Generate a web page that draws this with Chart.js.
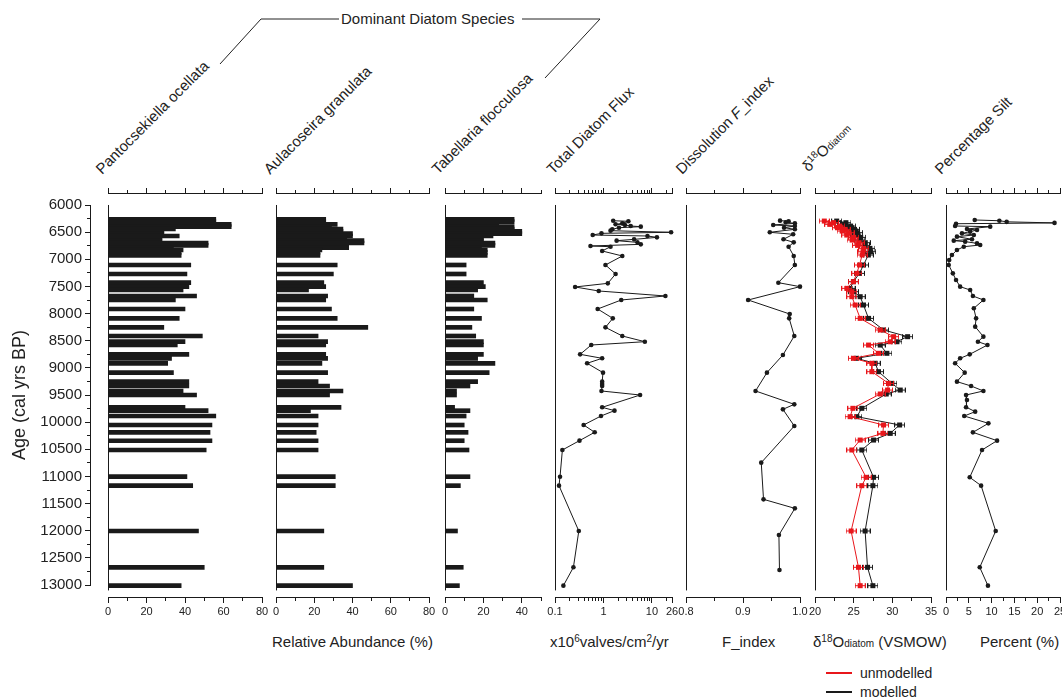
<!DOCTYPE html>
<html>
<head>
<meta charset="utf-8">
<script src="https://cdn.jsdelivr.net/npm/chart.js@4.4.0/dist/chart.umd.min.js"></script>
<style>
  body { margin: 0; background: #fff; font-family: Arial, "Liberation Sans", sans-serif; color: #222; }
  #wrap { position: relative; width: 1062px; height: 700px; overflow: hidden; }
  #wrap canvas { position: absolute; top: 0; }
  .rot { position: absolute; white-space: nowrap; font-size: 15px; line-height: 16px;
         transform-origin: 0 100%; transform: rotate(-45deg); }
  .unit { position: absolute; top: 633px; font-size: 15px; line-height: 17px; white-space: nowrap; }
  .small { font-size: 10px; }
  sup { font-size: 10px; vertical-align: 5px; line-height: 0; }
  .key { position: absolute; left: 826px; width: 26px; height: 2px; }
  .keytxt { position: absolute; left: 860px; font-size: 14px; line-height: 16px; }
</style>
</head>
<body>
<div id="wrap">
  <svg width="1062" height="700" style="position:absolute;left:0;top:0">
    <polyline points="220,64 261,19 339,19" fill="none" stroke="#222" stroke-width="1"/>
    <polyline points="522,19 600,19 545,78" fill="none" stroke="#222" stroke-width="1"/>
  </svg>
  <div style="position:absolute;left:341px;top:10px;font-size:15px;line-height:18px">Dominant Diatom Species</div>

  <div class="rot" style="left:104px;top:161px">Pantocsekiella ocellata</div>
  <div class="rot" style="left:272px;top:161px">Aulacoseira granulata</div>
  <div class="rot" style="left:440px;top:161px">Tabellaria flocculosa</div>
  <div class="rot" style="left:555px;top:161px">Total Diatom Flux</div>
  <div class="rot" style="left:684px;top:161px">Dissolution <i>F</i>_index</div>
  <div class="rot" style="left:812px;top:158px">δ<sup>18</sup>O<span class="small">diatom</span></div>
  <div class="rot" style="left:943px;top:161px">Percentage Silt</div>

  <div class="unit" style="left:272px">Relative Abundance (%)</div>
  <div class="unit" style="left:550px">x10<sup>6</sup>valves/cm<sup>2</sup>/yr</div>
  <div class="unit" style="left:722px">F_index</div>
  <div class="unit" style="left:813px">δ<sup>18</sup>O<span class="small">diatom</span> (VSMOW)</div>
  <div class="unit" style="left:980px">Percent (%)</div>

  <div class="key" style="top:672px;background:#e8161b"></div>
  <div class="keytxt" style="top:665px">unmodelled</div>
  <div class="key" style="top:691px;background:#1a1a1a"></div>
  <div class="keytxt" style="top:684px">modelled</div>
</div>

<script>
// ---- data (ages in cal yrs BP) ----
const speciesAges = [6264, 6307, 6356, 6399, 6442, 6485, 6528, 6571, 6614, 6657, 6700, 6743, 6786, 6829, 6872, 6927,
  7105, 7271, 7431, 7504, 7566, 7676, 7750, 7916, 8088, 8254, 8413, 8518, 8579, 8751, 8825, 8917, 9089, 9255, 9334,
  9426, 9500, 9727, 9789, 9887, 10053, 10188, 10342, 10513, 11005, 11170, 12005, 12674, 13012];
const pantocsekiella = [56, 56, 64, 64, 35, 29, 29, 37, 28, 28, 52, 52, 34, 39, 38, 38,
  43, 41, 43, 42, 39, 46, 35, 40, 37, 29, 49, 40, 36, 42, 33, 31, 34, 42, 42, 39, 46, 40, 52, 56, 54, 53, 54, 51,
  41, 44, 47, 50, 38];
const aulacoseira = [26, 26, 32, 29, 35, 35, 40, 40, 37, 46, 46, 38, 38, 24, 23, 23,
  32, 30, 25, 26, 17, 27, 26, 29, 32, 48, 22, 27, 26, 26, 27, 24, 27, 22, 28, 35, 28, 34, 18, 22, 22, 21, 22, 22,
  31, 31, 25, 25, 40];
const tabellaria = [36, 36, 28, 36, 36, 40, 40, 25, 20, 20, 26, 26, 19, 22, 22, 22,
  11, 11, 20, 21, 17, 15, 22, 15, 19, 14, 16, 20, 20, 20, 17, 26, 23, 17, 13, 6, 6, 5, 13, 11, 10, 12, 10, 12.5,
  13, 8, 6.5, 9.5, 7.5];

const fluxAges = [6290, 6300, 6338, 6356, 6368, 6387, 6399, 6418, 6448, 6473, 6503, 6522, 6553, 6571, 6596, 6633,
  6657, 6688, 6725, 6755, 6768, 6847, 6939, 7105, 7271, 7443, 7510, 7584, 7676, 7750, 7916, 8088, 8254, 8413, 8518,
  8579, 8751, 8824, 8916, 9088, 9254, 9297, 9334, 9426, 9500, 9727, 9788, 9887, 10052, 10187, 10341, 10513, 11005,
  11170, 12005, 12674, 13012];
const fluxValues = [1.59, 3.27, 2.45, 1.78, 2.78, 3.65, 5.9, 2.09, 1.52, 1.40, 24.9, 0.91, 0.60, 8.1, 12.7, 4.29,
  1.87, 5.03, 5.9, 0.54, 1.40, 0.94, 2.45, 1.10, 1.78, 1.23, 0.26, 0.80, 19.0, 2.33, 0.76, 1.56, 1.10, 2.45, 7.15,
  0.56, 0.33, 0.94, 0.46, 0.98, 0.94, 0.94, 0.94, 0.91, 5.71, 0.94, 1.69, 0.89, 0.39, 0.66, 0.32, 0.142, 0.127,
  0.121, 0.31, 0.24, 0.149];

const fIndexAges = [6288, 6300, 6319, 6338, 6368, 6387, 6418, 6448, 6503, 6540, 6632, 6688, 6768, 6939, 7105, 7431,
  7504, 7750, 8008, 8088, 8413, 8763, 9088, 9426, 9672, 9764, 10071, 10746, 11422, 11588, 12079, 12724];
const fIndexValues = [0.965, 0.980, 0.975, 0.991, 0.953, 0.991, 0.972, 0.991, 0.947, 0.988, 0.971, 0.989, 0.980,
  0.989, 0.991, 0.962, 1.0, 0.909, 0.982, 0.981, 0.990, 0.970, 0.942, 0.922, 0.990, 0.970, 0.990, 0.932, 0.936,
  0.991, 0.963, 0.964];

const isoAges = [6295, 6325, 6356, 6387, 6418, 6448, 6479, 6510, 6553, 6596, 6645, 6694, 6743, 6798, 6860, 6921,
  7105, 7259, 7412, 7535, 7596, 7688, 7842, 8088, 8302, 8425, 8518, 8579, 8732, 8824, 8916, 9070, 9285, 9408, 9481,
  9745, 9899, 10052, 10206, 10329, 10513, 11016, 11170, 12005, 12674, 13012];
const d18oUnmodelled = [21.2, 22.4, 21.9, 23.2, 22.9, 23.9, 23.5, 24.4, 24.1, 25.0, 24.8, 25.7, 25.5, 26.3, 26.2, 26.1,
  25.75, 25.40, 24.97, 24.11, 24.76, 24.76, 25.19, 25.84, 28.43, 30.16, 29.73, 26.92, 28.21, 24.97, 27.35, 27.35,
  29.51, 29.38, 28.43, 24.89, 24.54, 28.86, 28.78, 25.84, 24.76, 26.61, 26.05, 24.67, 25.62, 25.84];
const d18oModelled = [22.8, 24.0, 23.6, 24.6, 24.3, 25.1, 24.8, 25.5, 25.3, 25.9, 25.8, 26.5, 26.4, 27.1, 27.2, 26.9,
  26.27, 25.75, 24.97, 24.54, 24.97, 25.84, 26.27, 26.92, 28.86, 31.97, 30.59, 28.43, 29.29, 25.32, 27.78, 28.21,
  29.94, 31.02, 29.21, 26.05, 25.40, 30.94, 29.73, 27.57, 26.05, 27.57, 27.48, 26.48, 26.79, 27.48];

const siltAges = [6276, 6290, 6310, 6330, 6345, 6387, 6399, 6442, 6461, 6491, 6522, 6553, 6583, 6632, 6657, 6675,
  6706, 6737, 6768, 6829, 6921, 7013, 7105, 7259, 7381, 7504, 7566, 7676, 7750, 7903, 8088, 8241, 8425, 8518, 8579,
  8751, 8824, 8916, 9088, 9254, 9334, 9426, 9500, 9592, 9727, 9807, 9887, 10022, 10188, 10341, 10513, 11016, 11170,
  12005, 12674, 13012];
const siltValues = [6.3, 11.7, 13.3, 23.8, 2.2, 2.0, 9.7, 4.6, 6.8, 5.3, 3.5, 6.1, 2.4, 5.7, 1.7, 4.2, 6.8, 7.5, 3.9,
  2.4, 1.3, 0.7, 0.6, 1.5, 2.2, 3.1, 5.3, 5.9, 8.2, 6.1, 6.6, 6.4, 8.2, 7.0, 9.1, 5.2, 3.1, 2.0, 4.1, 2.4, 5.5, 8.2,
  4.4, 4.6, 4.4, 6.4, 4.0, 9.3, 5.9, 11.2, 7.9, 5.2, 7.7, 10.9, 7.4, 9.2];

// ---- ticks ----
const ageTicks = [6000, 6250, 6500, 6750, 7000, 7250, 7500, 7750, 8000, 8250, 8500, 8750, 9000, 9250, 9500, 9750,
  10000, 10250, 10500, 10750, 11000, 11250, 11500, 11750, 12000, 12250, 12500, 12750, 13000];
const ageLabels = [6000, 6500, 7000, 7500, 8000, 8500, 9000, 9500, 10000, 10500, 11000, 11500, 12000, 12500, 13000];
const abundanceTicks = [0, 10, 20, 30, 40, 50, 60, 70, 80];
const abundanceLabels = [0, 20, 40, 60, 80];
const tabTicks = [0, 10, 20, 30, 40, 50];
const tabLabels = [0, 20, 40];
const fluxTicks = [0.1, 0.2, 0.3, 0.4, 0.5, 0.6, 0.7, 0.8, 0.9, 1, 2, 3, 4, 5, 6, 7, 8, 9, 10, 20, 26];
const fluxLabels = [0.1, 1, 10, 26];
const fTicks = [0.8, 0.85, 0.9, 0.95, 1.0];
const fLabels = [0.8, 0.9, 1.0];
const isoTicks = [20, 22.5, 25, 27.5, 30, 32.5, 35];
const isoLabels = [20, 25, 30, 35];
const siltTicks = [0, 2.5, 5, 7.5, 10, 12.5, 15, 17.5, 20, 22.5, 25];
const siltLabels = [0, 5, 10, 15, 20, 25];

// ---- layout ----
const PAGE_H = 700, AREA_TOP = 193, AREA_BOTTOM = 597;
const TOP_AXIS_H = 8, BOTTOM_AXIS_H = 26;
const Y_MIN = 5779, Y_MAX = 13221;          // age range of the panel plot areas
const RECORD_TOP = 6000, RECORD_BOTTOM = 13100;
const ink = '#1a1a1a', red = '#e8161b';
const panelBox = {
  panto: [108, 262], aula: [276, 429], tab: [445, 541], flux: [555, 672],
  fidx: [686, 800], iso: [815, 931], silt: [946, 1060]
};

Chart.defaults.font.family = 'Arial, "Liberation Sans", sans-serif';
const wrap = document.getElementById('wrap');

const recordLine = {
  id: 'recordLine',
  beforeDatasetsDraw(chart) {
    const { ctx, chartArea, scales } = chart;
    const x = Math.round(chartArea.left) + 0.5;
    ctx.save();
    ctx.strokeStyle = ink;
    ctx.lineWidth = 1;
    ctx.beginPath();
    ctx.moveTo(x, scales.y.getPixelForValue(RECORD_TOP));
    ctx.lineTo(x, scales.y.getPixelForValue(RECORD_BOTTOM));
    ctx.stroke();
    ctx.restore();
  }
};

function xAxis(pos, spec) {
  const top = pos === 'top';
  const major = c => c.tick && spec.labels.includes(c.tick.value);
  return {
    type: spec.type || 'linear',
    position: pos,
    min: spec.min,
    max: spec.max,
    offset: false,
    border: { color: ink, width: 1 },
    grid: {
      drawOnChartArea: false,
      offset: false,
      tickLength: top ? 5 : 6,
      tickColor: ink,
      tickWidth: 1,
      tickBorderDash: c => major(c) ? [] : (top ? [0, 2, 20] : [3, 20])
    },
    ticks: {
      display: !top, autoSkip: false, maxRotation: 0, minRotation: 0, padding: 2,
      color: '#222', font: { size: 11 },
      callback: v => spec.labels.includes(v) ? spec.fmt(v) : ''
    },
    afterBuildTicks: s => { s.ticks = spec.ticks.map(v => ({ value: v })); },
    afterFit: s => { s.height = top ? TOP_AXIS_H : BOTTOM_AXIS_H; s.paddingLeft = 0; s.paddingRight = 0; }
  };
}

function panel(box, type, datasets, spec) {
  const [x0, x1] = box, m = 16;
  const cv = document.createElement('canvas');
  cv.width = x1 - x0 + 2 * m;
  cv.height = PAGE_H;
  cv.style.left = (x0 - m) + 'px';
  wrap.appendChild(cv);
  return new Chart(cv, {
    type: type,
    data: { datasets: datasets },
    options: {
      responsive: false, animation: false, events: [],
      indexAxis: type === 'bar' ? 'y' : 'x',
      layout: { autoPadding: false,
        padding: { left: m, right: m, top: AREA_TOP - TOP_AXIS_H, bottom: PAGE_H - AREA_BOTTOM - BOTTOM_AXIS_H } },
      plugins: { legend: { display: false }, tooltip: { enabled: false } },
      scales: {
        x: xAxis('bottom', spec),
        xTop: xAxis('top', spec),
        y: { type: 'linear', display: false, reverse: true, offset: false, min: Y_MIN, max: Y_MAX }
      }
    },
    plugins: [recordLine]
  });
}

function pts(ages, values) { return ages.map((a, i) => ({ x: values[i], y: a })); }

function bars(values) {
  return [{ data: pts(speciesAges, values), backgroundColor: ink, borderWidth: 0, barThickness: 4 }];
}

function curve(ages, values, color, marker) {
  return {
    data: pts(ages, values), showLine: true, borderColor: color, borderWidth: 1, clip: false,
    pointStyle: marker || 'circle', pointRadius: 2.3, pointBackgroundColor: color, pointBorderWidth: 0
  };
}

function errorMark(color) {
  const c = document.createElement('canvas');
  c.width = 11; c.height = 7;
  const g = c.getContext('2d');
  g.fillStyle = color;
  g.fillRect(0, 3, 11, 1);
  g.fillRect(0, 1, 1, 5);
  g.fillRect(10, 1, 1, 5);
  g.fillRect(3, 1, 5, 5);
  return c;
}

const intFmt = v => String(v);

panel(panelBox.panto, 'bar', bars(pantocsekiella), { min: 0, max: 80, ticks: abundanceTicks, labels: abundanceLabels, fmt: intFmt });
panel(panelBox.aula, 'bar', bars(aulacoseira), { min: 0, max: 80, ticks: abundanceTicks, labels: abundanceLabels, fmt: intFmt });
panel(panelBox.tab, 'bar', bars(tabellaria), { min: 0, max: 50, ticks: tabTicks, labels: tabLabels, fmt: intFmt });
panel(panelBox.flux, 'scatter', [curve(fluxAges, fluxValues, ink)],
  { type: 'logarithmic', min: 0.1, max: 26, ticks: fluxTicks, labels: fluxLabels, fmt: intFmt });
panel(panelBox.fidx, 'scatter', [curve(fIndexAges, fIndexValues, ink)],
  { min: 0.8, max: 1.0, ticks: fTicks, labels: fLabels, fmt: v => v.toFixed(1) });
panel(panelBox.iso, 'scatter', [
    curve(isoAges, d18oUnmodelled, red, errorMark(red)),
    curve(isoAges, d18oModelled, ink, errorMark(ink))
  ], { min: 20, max: 35, ticks: isoTicks, labels: isoLabels, fmt: intFmt });
panel(panelBox.silt, 'scatter', [curve(siltAges, siltValues, ink)],
  { min: 0, max: 25, ticks: siltTicks, labels: siltLabels, fmt: intFmt });

// age axis on the far left
const ageCv = document.createElement('canvas');
ageCv.width = 100; ageCv.height = PAGE_H;
ageCv.style.left = '0px';
wrap.appendChild(ageCv);
new Chart(ageCv, {
  type: 'scatter',
  data: { datasets: [] },
  options: {
    responsive: false, animation: false, events: [],
    layout: { autoPadding: false, padding: { left: 0, right: 8, top: 205, bottom: PAGE_H - 585 } },
    plugins: { legend: { display: false }, tooltip: { enabled: false } },
    scales: {
      x: { display: false, min: 0, max: 1 },
      y: {
        position: 'left', reverse: true, min: 6000, max: 13000,
        border: { color: ink, width: 1 },
        grid: {
          drawOnChartArea: false, tickLength: 5, tickColor: ink,
          tickBorderDash: c => c.tick && ageLabels.includes(c.tick.value) ? [] : [0, 2, 20]
        },
        ticks: { autoSkip: false, padding: 3, color: '#222', font: { size: 15 },
          callback: v => ageLabels.includes(v) ? String(v) : '' },
        afterBuildTicks: s => { s.ticks = ageTicks.map(v => ({ value: v })); },
        afterFit: s => { s.width = 90; s.paddingTop = 0; s.paddingBottom = 0; },
        title: { display: true, text: 'Age (cal yrs BP)', color: '#222', font: { size: 18 }, padding: { top: 9 } }
      }
    }
  }
});
</script>
</body>
</html>
